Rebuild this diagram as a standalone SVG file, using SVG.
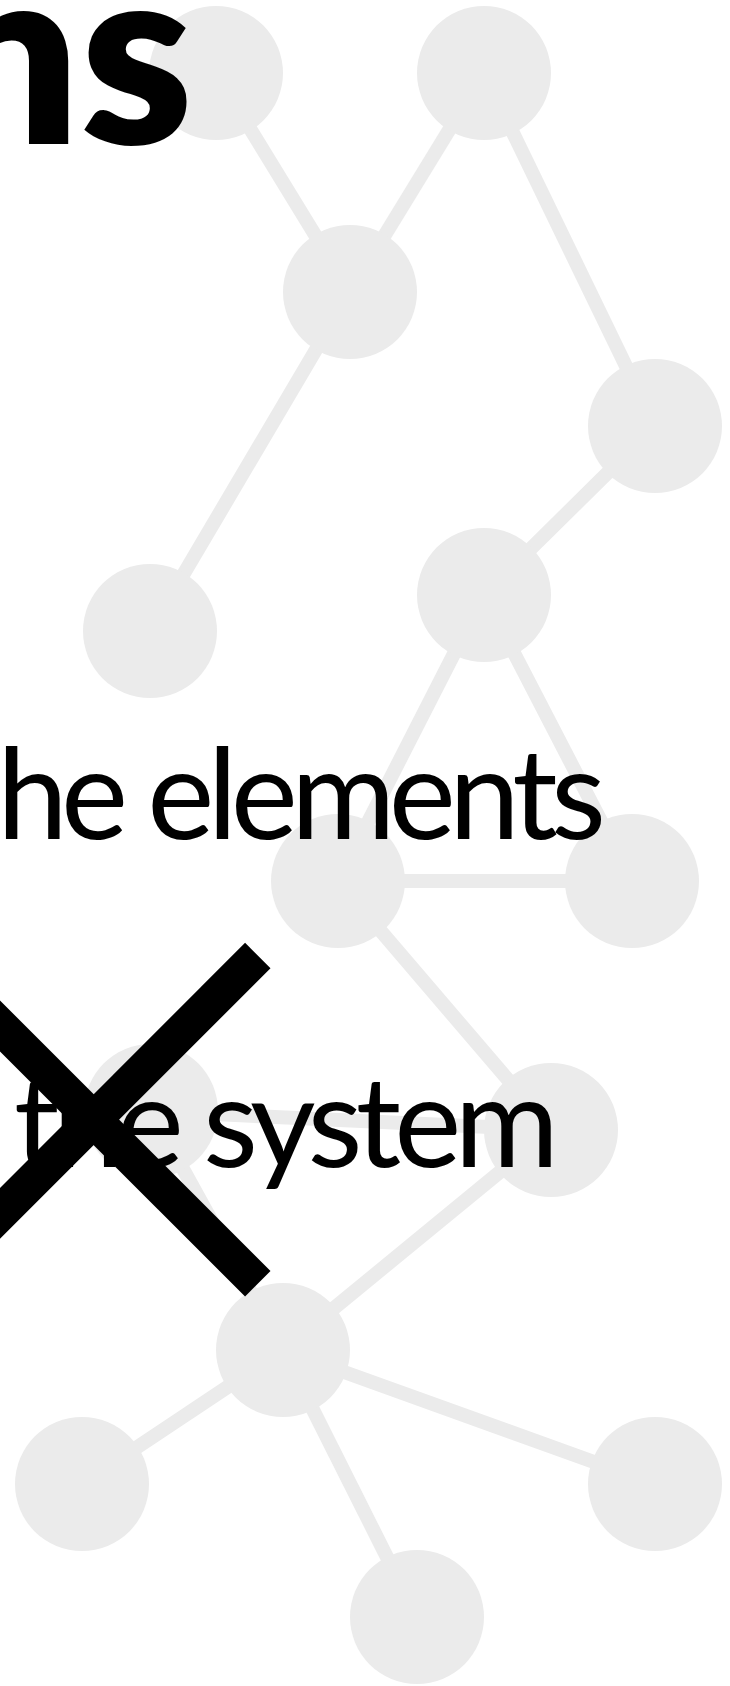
<svg xmlns="http://www.w3.org/2000/svg" width="730" height="1686" viewBox="0 0 730 1686">
  <style>
    .node { fill: #ebebeb; }
    .edge { stroke: #ebebeb; stroke-width: 14; fill: none; }
    .title { font-family: Lato, "Liberation Sans", sans-serif; font-weight: 800; font-size: 253px; fill: #000; }
    .body { font-family: Lato, "Liberation Sans", sans-serif; font-weight: 400; font-size: 127px; fill: #000; }
    .cross { stroke: #000; stroke-width: 36; stroke-linecap: butt; fill: none; }
  </style>
  <rect width="730" height="1686" fill="#fff"/>
  <g id="connectors">
    <line class="edge" x1="216" y1="73" x2="350" y2="292"/>
    <line class="edge" x1="484" y1="73" x2="350" y2="292"/>
    <line class="edge" x1="484" y1="73" x2="655" y2="426"/>
    <line class="edge" x1="350" y1="292" x2="150" y2="631"/>
    <line class="edge" x1="655" y1="426" x2="484" y2="595"/>
    <line class="edge" x1="484" y1="595" x2="338" y2="881"/>
    <line class="edge" x1="484" y1="595" x2="632" y2="881"/>
    <line class="edge" x1="338" y1="881" x2="632" y2="881"/>
    <line class="edge" x1="338" y1="881" x2="551" y2="1130"/>
    <line class="edge" x1="151" y1="1111" x2="551" y2="1130"/>
    <line class="edge" x1="151" y1="1111" x2="283" y2="1350"/>
    <line class="edge" x1="551" y1="1130" x2="283" y2="1350"/>
    <line class="edge" x1="283" y1="1350" x2="82" y2="1484"/>
    <line class="edge" x1="283" y1="1350" x2="655" y2="1484"/>
    <line class="edge" x1="283" y1="1350" x2="417" y2="1617"/>
  </g>
  <g id="node-1"><circle class="node" cx="216" cy="73" r="67"/></g>
  <g id="node-2"><circle class="node" cx="484" cy="73" r="67"/></g>
  <g id="node-3"><circle class="node" cx="350" cy="292" r="67"/></g>
  <g id="node-4"><circle class="node" cx="655" cy="426" r="67"/></g>
  <g id="node-5"><circle class="node" cx="150" cy="631" r="67"/></g>
  <g id="node-6"><circle class="node" cx="484" cy="595" r="67"/></g>
  <g id="node-7"><circle class="node" cx="338" cy="881" r="67"/></g>
  <g id="node-8"><circle class="node" cx="632" cy="881" r="67"/></g>
  <g id="node-9"><circle class="node" cx="151" cy="1111" r="67"/></g>
  <g id="node-10"><circle class="node" cx="551" cy="1130" r="67"/></g>
  <g id="node-11"><circle class="node" cx="283" cy="1350" r="67"/></g>
  <g id="node-12"><circle class="node" cx="82" cy="1484" r="67"/></g>
  <g id="node-13"><circle class="node" cx="655" cy="1484" r="67"/></g>
  <g id="node-14"><circle class="node" cx="417" cy="1617" r="67"/></g>
  <g id="title">
    <text class="title" x="193" y="144" text-anchor="end">ns</text>
  </g>
  <g id="text-elements">
    <text class="body" x="-3" y="839" textLength="609" lengthAdjust="spacing">he elements</text>
  </g>
  <g id="text-system">
    <text class="body" x="14" y="1167" textLength="545" lengthAdjust="spacing">the system</text>
  </g>
  <g id="cross-mark">
    <line class="cross" x1="257.8" y1="955.5" x2="-70.4" y2="1283.8"/>
    <line class="cross" x1="257.8" y1="1283.8" x2="-70.4" y2="955.5"/>
  </g>
</svg>
